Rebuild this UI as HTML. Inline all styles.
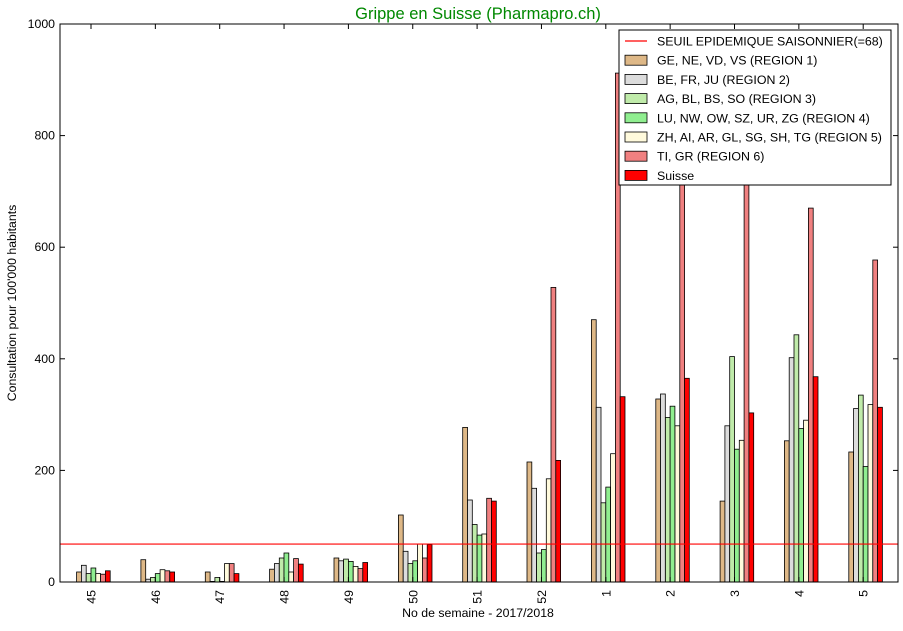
<!DOCTYPE html>
<html><head><meta charset="utf-8"><style>
html,body{margin:0;padding:0;background:#fff;}
svg text{font-family:"Liberation Sans","DejaVu Sans",sans-serif;}
</style></head><body>
<svg id="c" width="903" height="626" xmlns="http://www.w3.org/2000/svg"></svg>
<script>
const svg=document.getElementById('c');
const L=60,R=898,T=24,B=582,k=(B-T)/1000;
const cols=['#deb887','#dcdcdc','#c0ebaa','#90ee90','#fffadc','#f08080','#ff0000'];
const labels=['45','46','47','48','49','50','51','52','1','2','3','4','5'];
const data=[
[18,30,15,25,15,14,20],
[40,5,8,15,22,20,18],
[18,1,8,1,33,33,15],
[23,33,43,52,18,42,32],
[43,38,41,37,28,24,35],
[120,55,33,38,68,43,67],
[277,147,103,84,86,150,145],
[215,168,52,58,185,528,218],
[470,313,142,170,230,912,332],
[328,337,295,315,280,950,365],
[145,280,404,238,254,900,303],
[253,402,443,275,290,670,368],
[233,311,335,207,318,577,313]];
let s='';
s+=`<text x="478" y="19" text-anchor="middle" font-size="16.5" fill="#008800">Grippe en Suisse (Pharmapro.ch)</text>`;
const sp=64.35,w=4.8;
data.forEach((g,i)=>{
 const x0=91+i*sp-14.4;
 g.forEach((v,j)=>{
  const h=v*k;
  s+=`<rect x="${(x0+j*w).toFixed(1)}" y="${(B-h).toFixed(1)}" width="${w}" height="${h.toFixed(1)}" fill="${cols[j]}" stroke="#000" stroke-width="0.8"/>`;
 });
});
const ty=B-68*k;
s+=`<line x1="${L}" x2="${R}" y1="${ty}" y2="${ty}" stroke="#ff0000" stroke-width="1.2"/>`;
s+=`<rect x="${L}" y="${T}" width="${R-L}" height="${B-T}" fill="none" stroke="#000" stroke-width="1"/>`;
for(let v=0;v<=1000;v+=200){
 const y=B-v*k;
 s+=`<line x1="${L}" x2="${L+5}" y1="${y}" y2="${y}" stroke="#000"/>`;
 s+=`<line x1="${R-5}" x2="${R}" y1="${y}" y2="${y}" stroke="#000"/>`;
 s+=`<text x="${L-5}" y="${y+4}" text-anchor="end" font-size="12.3">${v}</text>`;
}
labels.forEach((l,i)=>{
 const x=91+i*sp;
 s+=`<line x1="${x}" x2="${x}" y1="${B}" y2="${B-5}" stroke="#000"/>`;
 s+=`<line x1="${x}" x2="${x}" y1="${T}" y2="${T+5}" stroke="#000"/>`;
 s+=`<text transform="translate(${x+4.5},${B+8}) rotate(-90)" text-anchor="end" font-size="12.3">${l}</text>`;
});
s+=`<text x="478" y="617" text-anchor="middle" font-size="12.3">No de semaine - 2017/2018</text>`;
s+=`<text transform="translate(16,303) rotate(-90)" text-anchor="middle" font-size="12.3">Consultation pour 100'000 habitants</text>`;
s+=`<rect x="619" y="30" width="272" height="155" fill="#fff" stroke="#000" stroke-width="1"/>`;
const leg=['SEUIL EPIDEMIQUE SAISONNIER(=68)','GE, NE, VD, VS (REGION 1)','BE, FR, JU (REGION 2)','AG, BL, BS, SO (REGION 3)','LU, NW, OW, SZ, UR, ZG (REGION 4)','ZH, AI, AR, GL, SG, SH, TG (REGION 5)','TI, GR (REGION 6)','Suisse'];
leg.forEach((t,i)=>{
 const y=41+i*19.2;
 if(i==0) s+=`<line x1="625" x2="647" y1="${y}" y2="${y}" stroke="#ff0000" stroke-width="1.2"/>`;
 else s+=`<rect x="625" y="${y-5}" width="22" height="10" fill="${cols[i-1]}" stroke="#000" stroke-width="0.8"/>`;
 s+=`<text x="657" y="${y+4.5}" font-size="12.4">${t}</text>`;
});
svg.innerHTML=s;
</script>
</body></html>
